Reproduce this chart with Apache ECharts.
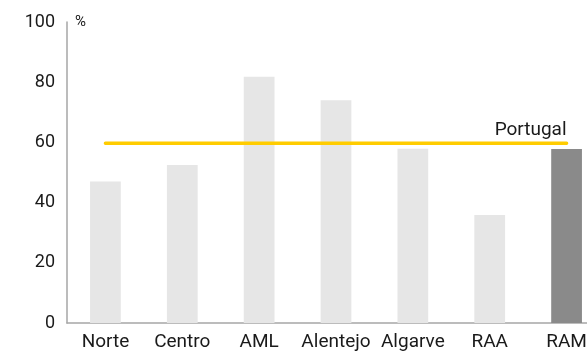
<!DOCTYPE html>
<html>
<head>
<meta charset="utf-8">
<script src="https://cdn.jsdelivr.net/npm/echarts@6/dist/echarts.min.js"></script>
<style>
html,body{margin:0;padding:0;background:#fff;}
#chart{width:587px;height:353px;}
</style>
</head>
<body>
<div id="chart"></div>
<script>
var categories = ['Norte', 'Centro', 'AML', 'Alentejo', 'Algarve', 'RAA', 'RAM'];
var values = [47, 52.5, 81.8, 74, 57.9, 35.9, 57.8];
var portugalValue = 59.7;
var highlighted = 'RAM';
var yTicks = [0, 20, 40, 60, 80, 100];

var chart = echarts.init(document.getElementById('chart'), null, {renderer: 'canvas'});
var font = 'Roboto';
var barData = values.map(function (v, i) {
  return {
    value: v,
    itemStyle: {color: categories[i] === highlighted ? '#8a8a8a' : '#e6e6e6'}
  };
});
var lineData = categories.map(function (c, i) {
  var d = {value: portugalValue};
  if (i === categories.length - 1) {
    d.label = {
      show: true, formatter: 'Portugal', position: 'top', align: 'right',
      distance: 4, color: '#1a1a1a', fontFamily: font, fontSize: 19
    };
  }
  return d;
});

chart.setOption({
  animation: false,
  grid: {left: 67, top: 22, width: 538, height: 301, containLabel: false, outerBoundsMode: 'none'},
  xAxis: {
    type: 'category',
    data: categories,
    axisLine: {lineStyle: {color: '#a6a6a6', width: 1.5}},
    axisTick: {show: false},
    axisLabel: {color: '#1a1a1a', fontFamily: font, fontSize: 19, margin: 10, interval: 0}
  },
  yAxis: {
    type: 'value',
    min: yTicks[0], max: yTicks[yTicks.length - 1], interval: 20,
    name: '%',
    nameLocation: 'end',
    nameGap: 0,
    nameTextStyle: {color: '#1a1a1a', fontFamily: font, fontSize: 15, align: 'left', verticalAlign: 'middle', padding: [0, 0, 0, 8]},
    axisLine: {show: true, lineStyle: {color: '#a6a6a6', width: 1.5}},
    axisTick: {show: false},
    splitLine: {show: false},
    axisLabel: {color: '#1a1a1a', fontFamily: font, fontSize: 18, margin: 12}
  },
  series: [
    {
      type: 'bar',
      data: barData,
      barWidth: '40%'
    },
    {
      type: 'line',
      data: lineData,
      symbol: 'circle',
      symbolSize: 0,
      showSymbol: true,
      lineStyle: {color: '#ffcc00', width: 3.5, cap: 'round'},
      itemStyle: {color: '#ffcc00'},
      z: 5
    }
  ]
});
</script>
</body>
</html>
